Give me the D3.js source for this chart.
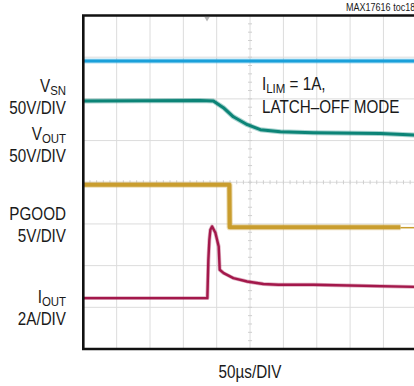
<!DOCTYPE html>
<html>
<head>
<meta charset="utf-8">
<script src="https://cdn.jsdelivr.net/npm/d3@7"></script>
<style>
  html, body { margin: 0; padding: 0; background: #fff; }
  svg { display: block; }
  text { font-family: "Liberation Sans", Arial, sans-serif; fill: #1a1a1a; }
</style>
</head>
<body>
<div id="chart"></div>
<script>
// scope capture, values in screen divisions (10 x 8 grid, 0 = centre line)
const timeDivs = 10
const voltDivs = 8

// [time div, level div]
const vsn = [[0, 2.91], [10, 2.91]]
const vout = [[0, 1.95], [3.5, 1.96], [3.9, 1.95], [4.2, 1.79], [4.5, 1.57], [4.92, 1.38],
  [5.31, 1.26], [5.91, 1.21], [6.9, 1.19], [8.91, 1.17], [10, 1.13]]
const pgood = [[0, -0.06], [4.38, -0.06], [4.39, -1.08], [9.51, -1.08]]
const pgoodTail = [[9.51, -1.09], [10, -1.09]]
const iout = [[0, -2.78], [3.72, -2.78], [3.75, -1.86], [3.78, -1.38], [3.81, -1.14], [3.86, -1.06],
  [3.96, -1.21], [4.06, -1.54], [4.09, -2.10], [4.21, -2.18], [4.5, -2.30], [4.91, -2.38],
  [5.4, -2.44], [5.85, -2.46], [6.9, -2.46], [10, -2.51]]
const triggerAt = 3.71

const channelLabels = [
  [["V", "SN"]], [["50V/DIV"]],
  [["V", "OUT"]], [["50V/DIV"]],
  [["PGOOD"]], [["5V/DIV"]],
  [["I", "OUT"]], [["2A/DIV"]]
]
const noteLines = [[["I", "LIM"], [" = 1A,"]], [["LATCH\u2013OFF MODE"]]]
const timeLabel = "50\u00b5s/DIV"
const tocLabel = "MAX17616 toc18"

const width = 414, height = 386
const plot = {left: 83.3, top: 15.5, right: 416.8, bottom: 349}

const x = d3.scaleLinear().domain([0, timeDivs]).range([plot.left, plot.right])
const y = d3.scaleLinear().domain([-voltDivs / 2, voltDivs / 2]).range([plot.bottom, plot.top])

const svg = d3.select("#chart").append("svg")
  .attr("width", width)
  .attr("height", height)

// grid
const grid = svg.append("g").attr("class", "grid")
grid.selectAll("line.v")
  .data(d3.range(1, timeDivs))
  .enter().append("line")
    .attr("x1", d => x(d)).attr("x2", d => x(d))
    .attr("y1", plot.top).attr("y2", plot.bottom)
    .style("stroke", "#dcdcdc").style("stroke-width", 1)
grid.selectAll("line.h")
  .data(d3.range(-voltDivs / 2 + 1, voltDivs / 2))
  .enter().append("line")
    .attr("x1", plot.left).attr("x2", plot.right)
    .attr("y1", d => y(d)).attr("y2", d => y(d))
    .style("stroke", "#dcdcdc").style("stroke-width", 1)

// minor ticks on the centre lines
grid.selectAll("line.mx")
  .data(d3.range(0, timeDivs, 0.2))
  .enter().append("line")
    .attr("x1", d => x(d)).attr("x2", d => x(d))
    .attr("y1", y(0) - 2).attr("y2", y(0) + 2)
    .style("stroke", "#cfcfcf").style("stroke-width", 1)
grid.selectAll("line.my")
  .data(d3.range(-voltDivs / 2, voltDivs / 2, 0.2))
  .enter().append("line")
    .attr("x1", x(timeDivs / 2) - 2).attr("x2", x(timeDivs / 2) + 2)
    .attr("y1", d => y(d)).attr("y2", d => y(d))
    .style("stroke", "#cfcfcf").style("stroke-width", 1)

// trigger marker
svg.append("path")
  .attr("d", d3.symbol().type(d3.symbolTriangle).size(12))
  .attr("transform", "translate(" + x(triggerAt) + "," + (plot.top + 3) + ") rotate(180)")
  .style("fill", "#b5b5b5")

const line = d3.line().x(d => x(d[0])).y(d => y(d[1]))

// soft wider underlay stands in for the scope noise band
function trace (data, color, w, fuzz) {
  if (fuzz) {
    svg.append("path")
      .datum(data)
      .attr("d", line)
      .style("fill", "none")
      .style("stroke", color)
      .style("stroke-opacity", 0.35)
      .style("stroke-width", w + fuzz)
      .style("stroke-linejoin", "round")
  }
  svg.append("path")
    .datum(data)
    .attr("d", line)
    .style("fill", "none")
    .style("stroke", color)
    .style("stroke-width", w)
    .style("stroke-linejoin", "round")
}

trace(vsn, "#1aa0da", 3, 2)
trace(vout, "#0c8477", 3, 2)
trace(pgood, "#c99d2e", 4.2, 2)
trace(pgoodTail, "#c99d2e", 1.5, 0)
trace(iout, "#a3184b", 2.4, 1.5)

// frame
svg.append("path")
  .attr("d", "M" + (plot.right + 5) + "," + plot.top + "H" + plot.left + "V" + plot.bottom + "H" + (plot.right + 5))
  .style("fill", "none")
  .style("stroke", "#111")
  .style("stroke-width", 2.6)

function label (parts, px, py, anchor, size, sx) {
  const g = svg.append("g")
    .attr("transform", "translate(" + px + "," + py + ") scale(" + (sx || 0.87) + ",1)")
  const t = g.append("text")
    .attr("x", 0).attr("y", 0)
    .attr("text-anchor", anchor)
    .style("font-size", size + "px")
  parts.forEach(p => {
    t.append("tspan").text(p[0])
    if (p[1]) t.append("tspan").attr("dy", 3).style("font-size", (size * 0.75) + "px").text(p[1])
  })
}

const labelBaselines = [92, 114, 140, 162, 220, 242, 303, 325]
channelLabels.forEach((l, i) => label(l, 66, labelBaselines[i], "end", 17.5))

// I_LIM note: first line has a subscript, then plain text after it
const note = svg.append("g").attr("transform", "translate(262,90) scale(0.87,1)")
const nt = note.append("text").style("font-size", "17.5px")
nt.append("tspan").text(noteLines[0][0][0])
nt.append("tspan").attr("dy", 3).style("font-size", "13.2px").text(noteLines[0][0][1])
nt.append("tspan").attr("dy", -3).text(noteLines[0][1][0])
label(noteLines[1], 262, 113, "start", 17.5)

label([[timeLabel]], x(timeDivs / 2), 378, "middle", 17.5)
label([[tocLabel]], 346, 11, "start", 10.5, 0.86)
</script>
</body>
</html>
